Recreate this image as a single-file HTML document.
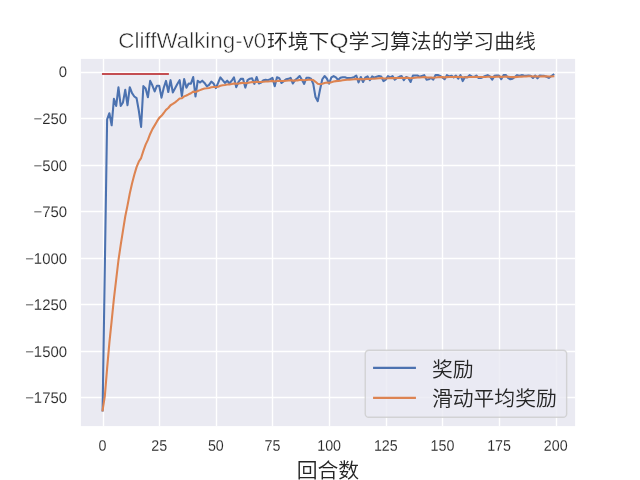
<!DOCTYPE html>
<html lang="zh-CN">
<head>
<meta charset="utf-8">
<title>CliffWalking-v0环境下Q学习算法的学习曲线</title>
<style>
html,body{margin:0;padding:0;background:#fff;}
body{width:640px;height:480px;overflow:hidden;}
svg{display:block;}
text{font-family:"Liberation Sans","Noto Sans CJK SC",sans-serif;fill:#262626;}
.tick text{font-size:15.28px;stroke:#fff;stroke-width:0.12px;}
.lat{font-size:21.8px;stroke:#fff;stroke-width:0.5px;}
.cjk{font-size:20.83px;font-weight:350;}
.grid line{stroke:#fff;stroke-width:1.4;}
.ln{fill:none;stroke-width:2.08;stroke-linejoin:round;stroke-linecap:square;}
</style>
</head>
<body>
<svg width="640" height="480" viewBox="0 0 640 480">
<rect x="0" y="0" width="640" height="480" fill="#ffffff"/>
<rect x="80.87" y="58.87" width="494.26" height="367.26" fill="#eaeaf2"/>
<g class="grid"><line x1="103.50" y1="58.87" x2="103.50" y2="426.13"/><line x1="159.50" y1="58.87" x2="159.50" y2="426.13"/><line x1="216.50" y1="58.87" x2="216.50" y2="426.13"/><line x1="272.50" y1="58.87" x2="272.50" y2="426.13"/><line x1="329.50" y1="58.87" x2="329.50" y2="426.13"/><line x1="386.50" y1="58.87" x2="386.50" y2="426.13"/><line x1="442.50" y1="58.87" x2="442.50" y2="426.13"/><line x1="499.50" y1="58.87" x2="499.50" y2="426.13"/><line x1="556.50" y1="58.87" x2="556.50" y2="426.13"/><line x1="80.87" y1="72.50" x2="575.13" y2="72.50"/><line x1="80.87" y1="118.50" x2="575.13" y2="118.50"/><line x1="80.87" y1="165.50" x2="575.13" y2="165.50"/><line x1="80.87" y1="211.50" x2="575.13" y2="211.50"/><line x1="80.87" y1="258.50" x2="575.13" y2="258.50"/><line x1="80.87" y1="304.50" x2="575.13" y2="304.50"/><line x1="80.87" y1="351.50" x2="575.13" y2="351.50"/><line x1="80.87" y1="397.50" x2="575.13" y2="397.50"/></g>
<g class="tick"><text transform="translate(102.55,450.7) rotate(0.05) scale(0.935,1)" text-anchor="middle">0</text><text transform="translate(159.20,450.7) rotate(0.05) scale(0.935,1)" text-anchor="middle">25</text><text transform="translate(215.84,450.7) rotate(0.05) scale(0.935,1)" text-anchor="middle">50</text><text transform="translate(272.49,450.7) rotate(0.05) scale(0.935,1)" text-anchor="middle">75</text><text transform="translate(329.14,450.7) rotate(0.05) scale(0.935,1)" text-anchor="middle">100</text><text transform="translate(385.79,450.7) rotate(0.05) scale(0.935,1)" text-anchor="middle">125</text><text transform="translate(442.43,450.7) rotate(0.05) scale(0.935,1)" text-anchor="middle">150</text><text transform="translate(499.08,450.7) rotate(0.05) scale(0.935,1)" text-anchor="middle">175</text><text transform="translate(555.73,450.7) rotate(0.05) scale(0.935,1)" text-anchor="middle">200</text><text transform="translate(67.0,77.10) rotate(0.05) scale(0.975,1)" text-anchor="end">0</text><text transform="translate(67.0,123.90) rotate(0.05) scale(0.975,1)" text-anchor="end">−250</text><text transform="translate(67.0,170.90) rotate(0.05) scale(0.975,1)" text-anchor="end">−500</text><text transform="translate(67.0,216.90) rotate(0.05) scale(0.975,1)" text-anchor="end">−750</text><text transform="translate(67.0,263.90) rotate(0.05) scale(0.975,1)" text-anchor="end">−1000</text><text transform="translate(67.0,309.90) rotate(0.05) scale(0.975,1)" text-anchor="end">−1250</text><text transform="translate(67.0,356.90) rotate(0.05) scale(0.975,1)" text-anchor="end">−1500</text><text transform="translate(67.0,402.90) rotate(0.05) scale(0.975,1)" text-anchor="end">−1750</text></g>
<clipPath id="ax"><rect x="80.87" y="58.87" width="494.26" height="367.26"/></clipPath>
<g clip-path="url(#ax)">
<polyline class="ln" stroke="#4c72b0" points="102.60,410.36 104.86,264.94 107.13,119.34 109.39,113.21 111.66,125.29 113.92,98.91 116.19,105.97 118.45,87.40 120.72,105.97 122.98,102.44 125.25,89.81 127.52,105.23 129.78,87.21 132.04,93.16 134.31,96.50 136.57,98.17 138.84,110.80 141.10,126.96 143.37,86.10 145.63,88.51 147.90,97.24 150.16,80.90 152.43,85.54 154.69,91.49 156.96,85.73 159.22,85.73 161.49,97.61 163.75,87.77 166.02,80.90 168.28,92.04 170.55,80.16 172.81,92.41 175.08,88.33 177.34,84.06 179.61,80.16 181.88,96.13 184.14,79.04 186.41,87.77 188.67,83.50 190.94,83.69 193.20,77.00 195.47,96.50 197.73,80.71 200.00,82.57 202.26,80.71 204.53,82.94 206.79,86.29 209.06,84.80 211.32,81.64 213.58,83.50 215.85,88.14 218.12,82.94 220.38,77.37 222.64,80.16 224.91,82.94 227.18,80.71 229.44,83.50 231.71,80.71 233.97,77.37 236.24,87.21 238.50,82.01 240.77,78.86 243.03,78.67 245.30,87.59 247.56,80.16 249.82,78.67 252.09,78.30 254.35,83.87 256.62,77.00 258.88,83.50 261.15,82.57 263.41,80.16 265.68,79.79 267.94,80.16 270.21,79.23 272.48,77.93 274.74,86.29 277.00,77.19 279.27,78.11 281.53,82.94 283.80,81.09 286.06,79.23 288.33,78.86 290.60,77.93 292.86,83.50 295.12,80.16 297.39,78.30 299.65,76.07 301.92,79.79 304.19,83.87 306.45,77.74 308.72,77.74 310.98,78.67 313.25,83.87 315.51,97.06 317.77,101.14 320.04,89.44 322.31,79.23 324.57,76.07 326.84,78.49 329.10,83.69 331.37,77.37 333.63,76.07 335.89,77.37 338.16,79.97 340.43,77.74 342.69,77.19 344.96,77.19 347.22,78.11 349.49,77.93 351.75,77.74 354.01,77.19 356.28,75.51 358.55,82.39 360.81,77.00 363.08,82.01 365.34,77.37 367.61,76.44 369.87,80.16 372.13,76.44 374.40,77.56 376.66,76.81 378.93,76.07 381.20,76.44 383.46,81.09 385.73,79.60 387.99,76.07 390.25,77.37 392.52,76.07 394.78,79.60 397.05,77.93 399.32,76.81 401.58,76.07 403.85,80.16 406.11,77.00 408.38,77.93 410.64,82.01 412.90,75.51 415.17,75.51 417.44,75.51 419.70,76.81 421.97,75.89 424.23,75.14 426.50,79.60 428.76,79.23 431.02,77.93 433.29,79.60 435.56,74.96 437.82,74.96 440.09,75.89 442.35,77.37 444.62,79.23 446.88,75.14 449.14,76.44 451.41,75.70 453.68,77.37 455.94,75.70 458.21,78.67 460.47,75.14 462.74,81.09 465.00,77.00 467.26,77.37 469.53,75.14 471.79,76.44 474.06,77.00 476.33,75.51 478.59,77.93 480.86,77.93 483.12,77.00 485.38,75.89 487.65,75.14 489.91,76.44 492.18,79.60 494.45,75.89 496.71,75.51 498.98,75.51 501.24,79.23 503.50,75.14 505.77,74.96 508.03,77.93 510.30,79.23 512.57,78.67 514.83,77.00 517.10,75.14 519.36,75.70 521.62,75.14 523.89,75.51 526.15,75.70 528.42,75.51 530.69,75.70 532.95,77.93 535.22,75.51 537.48,78.30 539.75,75.51 542.01,75.89 544.27,75.89 546.54,76.81 548.81,77.93 551.07,76.26 553.34,74.59"/>
<polyline class="ln" stroke="#dd8452" points="102.60,410.36 104.86,395.82 107.13,368.17 109.39,342.67 111.66,320.93 113.92,298.73 116.19,279.46 118.45,260.25 120.72,244.82 122.98,230.58 125.25,216.51 127.52,205.38 129.78,193.56 132.04,183.52 134.31,174.82 136.57,167.16 138.84,161.52 141.10,158.06 143.37,150.87 145.63,144.63 147.90,139.89 150.16,133.99 152.43,129.15 154.69,125.38 156.96,121.42 159.22,117.85 161.49,115.82 163.75,113.02 166.02,109.81 168.28,108.03 170.55,105.24 172.81,103.96 175.08,102.40 177.34,100.56 179.61,98.52 181.88,98.28 184.14,96.36 186.41,95.50 188.67,94.30 190.94,93.24 193.20,91.62 195.47,92.10 197.73,90.96 200.00,90.13 202.26,89.18 204.53,88.56 206.79,88.33 209.06,87.98 211.32,87.35 213.58,86.96 215.85,87.08 218.12,86.67 220.38,85.74 222.64,85.18 224.91,84.95 227.18,84.53 229.44,84.43 231.71,84.06 233.97,83.39 236.24,83.77 238.50,83.59 240.77,83.12 243.03,82.68 245.30,83.17 247.56,82.87 249.82,82.45 252.09,82.03 254.35,82.22 256.62,81.69 258.88,81.87 261.15,81.94 263.41,81.77 265.68,81.57 267.94,81.43 270.21,81.21 272.48,80.88 274.74,81.42 277.00,81.00 279.27,80.71 281.53,80.93 283.80,80.95 286.06,80.78 288.33,80.58 290.60,80.32 292.86,80.64 295.12,80.59 297.39,80.36 299.65,79.93 301.92,79.92 304.19,80.31 306.45,80.05 308.72,79.82 310.98,79.71 313.25,80.12 315.51,81.82 317.77,83.75 320.04,84.32 322.31,83.81 324.57,83.04 326.84,82.58 329.10,82.69 331.37,82.16 333.63,81.55 335.89,81.13 338.16,81.02 340.43,80.69 342.69,80.34 344.96,80.02 347.22,79.83 349.49,79.64 351.75,79.45 354.01,79.23 356.28,78.85 358.55,79.21 360.81,78.99 363.08,79.29 365.34,79.10 367.61,78.83 369.87,78.96 372.13,78.71 374.40,78.60 376.66,78.42 378.93,78.18 381.20,78.01 383.46,78.32 385.73,78.45 387.99,78.21 390.25,78.12 392.52,77.92 394.78,78.09 397.05,78.07 399.32,77.95 401.58,77.76 403.85,78.00 406.11,77.90 408.38,77.90 410.64,78.31 412.90,78.03 415.17,77.78 417.44,77.55 419.70,77.48 421.97,77.32 424.23,77.10 426.50,77.35 428.76,77.54 431.02,77.58 433.29,77.78 435.56,77.50 437.82,77.24 440.09,77.11 442.35,77.14 444.62,77.34 446.88,77.12 449.14,77.06 451.41,76.92 453.68,76.97 455.94,76.84 458.21,77.02 460.47,76.83 462.74,77.26 465.00,77.23 467.26,77.25 469.53,77.04 471.79,76.98 474.06,76.98 476.33,76.83 478.59,76.94 480.86,77.04 483.12,77.04 485.38,76.92 487.65,76.74 489.91,76.71 492.18,77.00 494.45,76.89 496.71,76.75 498.98,76.63 501.24,76.89 503.50,76.71 505.77,76.54 508.03,76.68 510.30,76.93 512.57,77.11 514.83,77.10 517.10,76.90 519.36,76.78 521.62,76.62 523.89,76.51 526.15,76.43 528.42,76.33 530.69,76.27 532.95,76.44 535.22,76.34 537.48,76.54 539.75,76.44 542.01,76.38 544.27,76.33 546.54,76.38 548.81,76.54 551.07,76.51 553.34,76.32"/>
<polyline class="ln" stroke="#c44e52" points="103.0,73.95 167.85,73.95"/>
</g>
<text class="cjk" y="49.3"><tspan class="lat" x="118.3" y="47.5" textLength="148" lengthAdjust="spacingAndGlyphs">CliffWalking-v0</tspan><tspan x="266.9" y="49.3">环境下</tspan><tspan class="lat" x="329.2" y="47.5" textLength="19.4" lengthAdjust="spacingAndGlyphs">Q</tspan><tspan x="348.4" y="49.3">学习算法的学习曲线</tspan></text>
<text class="cjk" x="327.9" y="477.6" text-anchor="middle">回合数</text>
<rect x="365.25" y="350.25" width="201.4" height="67" rx="3.6" ry="3.6" fill="#eaeaf2" fill-opacity="0.8" stroke="#cccccc" stroke-opacity="0.8" stroke-width="1.39"/>
<line class="ln" x1="374.1" y1="367.9" x2="414.9" y2="367.9" stroke="#4c72b0"/>
<line class="ln" x1="374.1" y1="397.9" x2="414.9" y2="397.9" stroke="#dd8452"/>
<text class="cjk" x="431.9" y="376.7">奖励</text>
<text class="cjk" x="431.9" y="406.1">滑动平均奖励</text>
</svg>
</body>
</html>
